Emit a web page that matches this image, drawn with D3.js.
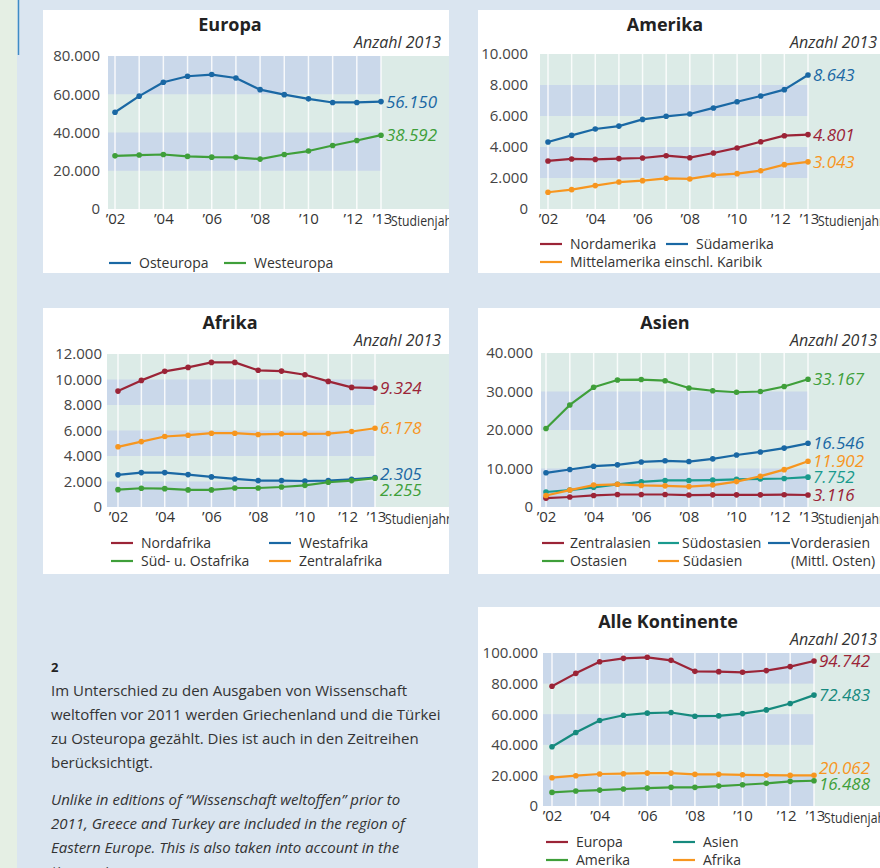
<!DOCTYPE html>
<html>
<head>
<meta charset="utf-8">
<script src="https://cdn.jsdelivr.net/npm/d3@7"></script>
<style>
body { margin: 0; background: #dae5f0; }
svg { display: block; font-family: "Open Sans", "Noto Sans", sans-serif; }
</style>
</head>
<body>
<script>
// years shown on every chart
var years = [2002, 2003, 2004, 2005, 2006, 2007, 2008, 2009, 2010, 2011, 2012, 2013];
var yearTicks = [2002, 2004, 2006, 2008, 2010, 2012, 2013];

// Europa
var osteuropa  = [50600, 59000, 66300, 69400, 70300, 68500, 62400, 59800, 57600, 55700, 55700, 56150];
var westeuropa = [27800, 28200, 28500, 27500, 27100, 27000, 26100, 28500, 30300, 33200, 35800, 38592];

// Amerika
var nordamerika   = [3100, 3230, 3200, 3250, 3290, 3440, 3310, 3610, 3940, 4340, 4730, 4801];
var suedamerika   = [4320, 4750, 5160, 5350, 5780, 5980, 6130, 6520, 6920, 7290, 7700, 8643];
var mittelamerika = [1080, 1250, 1510, 1740, 1830, 1980, 1940, 2190, 2280, 2470, 2860, 3043];

// Afrika
var nordafrika    = [9090, 9930, 10640, 10950, 11340, 11340, 10720, 10660, 10370, 9850, 9380, 9324];
var westafrika    = [2520, 2700, 2700, 2540, 2360, 2200, 2070, 2070, 2040, 2070, 2170, 2305];
var suedostafrika = [1360, 1470, 1440, 1340, 1340, 1490, 1490, 1570, 1700, 1940, 2070, 2255];
var zentralafrika = [4720, 5130, 5530, 5630, 5790, 5790, 5690, 5740, 5740, 5760, 5920, 6178];

// Asien
var zentralasien = [2300, 2600, 3000, 3250, 3250, 3250, 3100, 3150, 3150, 3150, 3200, 3116];
var suedostasien = [3900, 4400, 5100, 5900, 6550, 6900, 6900, 7000, 7200, 7300, 7400, 7752];
var vorderasien  = [8880, 9740, 10600, 10950, 11700, 12000, 11800, 12500, 13500, 14300, 15300, 16546];
var ostasien     = [20400, 26500, 31100, 33000, 33100, 32800, 30900, 30200, 29800, 30000, 31300, 33167];
var suedasien    = [3000, 4400, 5700, 5900, 5600, 5500, 5300, 5700, 6600, 8000, 9700, 11902];

// Alle Kontinente
var europaTotal  = [78300, 86700, 94300, 96500, 97200, 95200, 88000, 87800, 87400, 88500, 91100, 94742];
var asienTotal   = [38700, 48000, 55900, 59300, 60700, 61100, 58700, 58900, 60400, 62800, 67000, 72483];
var afrikaTotal  = [18500, 19800, 20900, 21100, 21500, 21500, 20700, 20700, 20400, 20200, 20000, 20062];
var amerikaTotal = [8900, 9800, 10400, 11100, 11700, 12200, 12200, 13000, 13900, 14800, 16100, 16488];

var BLUE = "#1a68a4", GREEN = "#3f9f3a", RED = "#9b2437", ORANGE = "#f7961f", TEAL = "#1a9a8e", TEAL2 = "#168a7e";

var de = d3.formatLocale({decimal: ",", thousands: ".", grouping: [3], currency: ["", "€"]});
var fmt = de.format(",d");

var charts = [
  { title: "Europa", panel: [43, 10, 406, 263], bgLeft: 108, x0: 115, x1: 381, yTop: 56, yBot: 209,
    max: 80000, step: 20000, parity: 1, labelRight: 100, titleX: 230,
    series: [
      {name: "Osteuropa", values: osteuropa, color: BLUE, lx: 109, ly: 263},
      {name: "Westeuropa", values: westeuropa, color: GREEN, lx: 224, ly: 263}
    ]},
  { title: "Amerika", panel: [478, 10, 404, 263], bgLeft: 540, x0: 548, x1: 808, yTop: 54, yBot: 209,
    max: 10000, step: 2000, parity: 1, labelRight: 528, titleX: 665,
    series: [
      {name: "Nordamerika", values: nordamerika, color: RED, lx: 540, ly: 244},
      {name: "Südamerika", values: suedamerika, color: BLUE, lx: 666, ly: 244},
      {name: "Mittelamerika einschl. Karibik", values: mittelamerika, color: ORANGE, lx: 540, ly: 262}
    ]},
  { title: "Afrika", panel: [43, 308, 406, 266], bgLeft: 107, x0: 118, x1: 375, yTop: 354, yBot: 507,
    max: 12000, step: 2000, parity: 0, labelRight: 102, titleX: 230,
    series: [
      {name: "Nordafrika", values: nordafrika, color: RED, lx: 111, ly: 543},
      {name: "Westafrika", values: westafrika, color: BLUE, lx: 269, ly: 543, dy: -4},
      {name: "Süd- u. Ostafrika", values: suedostafrika, color: GREEN, lx: 111, ly: 561, dy: 12},
      {name: "Zentralafrika", values: zentralafrika, color: ORANGE, lx: 269, ly: 561}
    ]},
  { title: "Asien", panel: [478, 308, 404, 266], bgLeft: 541, x0: 546, x1: 808, yTop: 353, yBot: 507,
    max: 40000, step: 10000, parity: 0, labelRight: 533, titleX: 665,
    series: [
      {name: "Zentralasien", values: zentralasien, color: RED, lx: 542, ly: 543, lw: 22, tx: 28},
      {name: "Südostasien", values: suedostasien, color: TEAL, lx: 658, ly: 543, lw: 21, tx: 24},
      {name: "Vorderasien", values: vorderasien, color: BLUE, lx: 768, ly: 543, lw: 22, tx: 23, extra: "(Mittl. Osten)"},
      {name: "Ostasien", values: ostasien, color: GREEN, lx: 542, ly: 561, lw: 22, tx: 28},
      {name: "Südasien", values: suedasien, color: ORANGE, lx: 658, ly: 561, lw: 21, tx: 25}
    ]},
  { title: "Alle Kontinente", panel: [478, 607, 404, 265], bgLeft: 543, x0: 552, x1: 814, yTop: 653, yBot: 806,
    max: 100000, step: 20000, parity: 0, labelRight: 538, titleX: 668,
    series: [
      {name: "Europa", values: europaTotal, color: RED, lx: 546, ly: 842},
      {name: "Asien", values: asienTotal, color: TEAL2, lx: 673, ly: 842},
      {name: "Amerika", values: amerikaTotal, color: GREEN, lx: 546, ly: 860, dy: 3},
      {name: "Afrika", values: afrikaTotal, color: ORANGE, lx: 673, ly: 860, dy: -7}
    ]}
];

var svg = d3.select("body").append("svg").attr("width", 880).attr("height", 868);

svg.append("rect").attr("width", 880).attr("height", 868).attr("fill", "#dae5f0");
svg.append("rect").attr("width", 17).attr("height", 868).attr("fill", "#e5efe4");
svg.append("line").attr("x1", 18.5).attr("x2", 18.5).attr("y1", 0).attr("y2", 55)
  .attr("stroke", "#3f8cc4").attr("stroke-width", 1.5);

var defs = svg.append("defs");

charts.forEach(function(c, i) {
  var p = c.panel;
  defs.append("clipPath").attr("id", "clip" + i)
    .append("rect").attr("x", p[0]).attr("y", p[1]).attr("width", p[2]).attr("height", p[3]);

  var g = svg.append("g").attr("clip-path", "url(#clip" + i + ")");
  g.append("rect").attr("x", p[0]).attr("y", p[1]).attr("width", p[2]).attr("height", p[3]).attr("fill", "#fff");

  var x = d3.scaleLinear().domain([2002, 2013]).range([c.x0, c.x1]);
  var y = d3.scaleLinear().domain([0, c.max]).range([c.yBot, c.yTop]);

  // background and bands
  g.append("rect").attr("x", c.bgLeft).attr("y", c.yTop)
    .attr("width", p[0] + p[2] - c.bgLeft).attr("height", c.yBot - c.yTop).attr("fill", "#dcebe7");
  var bands = d3.range(0, c.max, c.step).filter(function(v, k) { return k % 2 === c.parity; });
  g.selectAll(".band").data(bands).enter().append("rect")
    .attr("x", c.bgLeft).attr("width", c.x1 - c.bgLeft)
    .attr("y", function(d) { return y(d + c.step); })
    .attr("height", function(d) { return y(d) - y(d + c.step); })
    .attr("fill", "#cad8ea");

  g.selectAll(".grid").data(years).enter().append("line")
    .attr("x1", function(d) { return x(d); }).attr("x2", function(d) { return x(d); })
    .attr("y1", c.yTop).attr("y2", c.yBot)
    .attr("stroke", "#fff").attr("stroke-width", 1.5).attr("opacity", 0.85);

  // axes
  var yAxis = d3.axisLeft(y).tickValues(d3.range(0, c.max + 1, c.step)).tickSize(0).tickPadding(0).tickFormat(fmt);
  var ya = g.append("g").attr("transform", "translate(" + c.labelRight + ",0)").call(yAxis);
  ya.select(".domain").remove();
  ya.selectAll("text").attr("font-size", 15).attr("fill", "#444").attr("font-family", "Open Sans");

  var xAxis = d3.axisBottom(x).tickValues(yearTicks).tickSize(0).tickPadding(4)
    .tickFormat(function(d) { return "’" + String(d).slice(2); });
  var xa = g.append("g").attr("transform", "translate(0," + c.yBot + ")").call(xAxis);
  xa.select(".domain").remove();
  xa.selectAll("text").attr("font-size", 15).attr("fill", "#333").attr("font-family", "Open Sans");
  xa.selectAll(".tick").filter(function(d) { return d === 2012; }).select("text").attr("dx", -4);
  xa.selectAll(".tick").filter(function(d) { return d === 2013; }).select("text").attr("dx", 1);

  g.append("text").attr("x", c.x1 + 10).attr("y", c.yBot + 17)
    .attr("font-size", 14).attr("fill", "#333")
    .attr("textLength", 66).attr("lengthAdjust", "spacingAndGlyphs").text("Studienjahr");

  // title and unit
  g.append("text").attr("x", c.titleX).attr("y", p[1] + 21).attr("text-anchor", "middle")
    .attr("font-size", 18).attr("font-weight", "bold").attr("fill", "#222").text(c.title);
  g.append("text").attr("x", p[0] === 43 ? 441 : 877).attr("y", p[1] + 38).attr("text-anchor", "end")
    .attr("font-size", 16).attr("font-style", "italic").attr("fill", "#333").text("Anzahl 2013");

  var line = d3.line().x(function(d, k) { return x(years[k]); }).y(function(d) { return y(d); });

  c.series.forEach(function(s) {
    g.append("path").datum(s.values).attr("d", line)
      .attr("fill", "none").attr("stroke", s.color).attr("stroke-width", 2.2).attr("stroke-linejoin", "round");
    g.selectAll(null).data(s.values).enter().append("circle")
      .attr("cx", function(d, k) { return x(years[k]); })
      .attr("cy", function(d) { return y(d); })
      .attr("r", 2.8).attr("fill", s.color);
    var last = s.values[s.values.length - 1];
    g.append("text").attr("x", x(2013) + 5).attr("y", y(last) + (s.dy || 0))
      .attr("dy", "0.36em").attr("font-size", 17).attr("font-style", "italic")
      .attr("fill", s.color).text(fmt(last));

    // legend
    var lw = s.lw || 22, tx = s.tx || 30;
    g.append("line").attr("x1", s.lx).attr("x2", s.lx + lw).attr("y1", s.ly).attr("y2", s.ly)
      .attr("stroke", s.color).attr("stroke-width", 2.2);
    g.append("text").attr("x", s.lx + tx).attr("y", s.ly).attr("dy", "0.35em")
      .attr("font-size", 14).attr("fill", "#333").text(s.name);
    if (s.extra) {
      g.append("text").attr("x", s.lx + tx).attr("y", s.ly + 18).attr("dy", "0.35em")
        .attr("font-size", 14).attr("fill", "#333").text(s.extra);
    }
  });
});

// footnote
var note = svg.append("g").attr("fill", "#333").attr("font-size", 15);
note.append("text").attr("x", 51).attr("y", 672).attr("font-size", 13).attr("font-weight", "bold").attr("fill", "#222").text("2");
var deLines = [
  "Im Unterschied zu den Ausgaben von Wissenschaft",
  "weltoffen vor 2011 werden Griechenland und die Türkei",
  "zu Osteuropa gezählt. Dies ist auch in den Zeitreihen",
  "berücksichtigt."
];
var enLines = [
  "Unlike in editions of “Wissenschaft weltoffen” prior to",
  "2011, Greece and Turkey are included in the region of",
  "Eastern Europe. This is also taken into account in the",
  "time series."
];
deLines.forEach(function(t, k) {
  note.append("text").attr("x", 51).attr("y", 696 + k * 24).text(t);
});
enLines.forEach(function(t, k) {
  note.append("text").attr("x", 51).attr("y", 805 + k * 24).attr("font-style", "italic").text(t);
});
</script>
</body>
</html>
